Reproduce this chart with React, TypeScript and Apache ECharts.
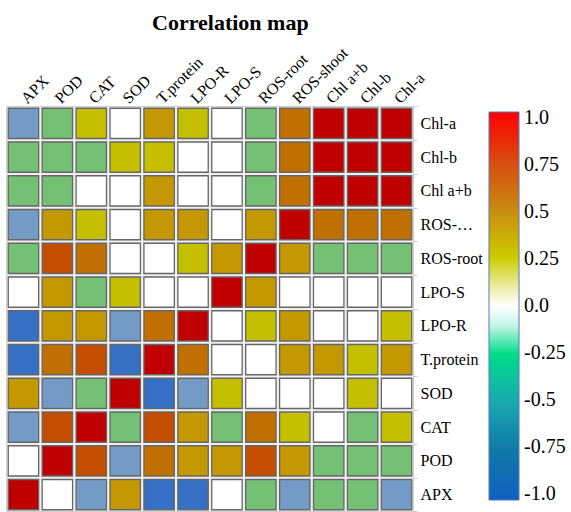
import React, { useEffect, useRef } from "react";
import * as echarts from "echarts";

// Variables (x axis left→right, y axis bottom→top)
const variables = [
  "APX", "POD", "CAT", "SOD", "T.protein", "LPO-R", "LPO-S",
  "ROS-root", "ROS-shoot", "Chl a+b", "Chl-b", "Chl-a",
];
// Y axis displayed labels (one is truncated in the reference)
const yLabelText = [
  "APX", "POD", "CAT", "SOD", "T.protein", "LPO-R", "LPO-S",
  "ROS-root", "ROS-…", "Chl a+b", "Chl-b", "Chl-a",
];

// Correlation matrix rows (same order as variables)
const rowAPX      = [1.0, 0.05, -0.5, 0.45, -0.8, -0.8, 0.05, -0.3, -0.5, -0.3, -0.3, -0.5];
const rowPOD      = [0.05, 1.0, 0.72, -0.5, 0.6, 0.45, 0.45, 0.72, 0.45, -0.3, -0.3, -0.3];
const rowCAT      = [-0.5, 0.72, 1.0, -0.3, 0.72, 0.45, -0.3, 0.6, 0.3, 0.05, -0.3, 0.3];
const rowSOD      = [0.45, -0.5, -0.3, 1.0, -0.8, -0.5, 0.3, 0.05, 0.05, 0.05, 0.3, 0.05];
const rowTprotein = [-0.8, 0.6, 0.72, -0.8, 1.0, 0.6, 0.05, 0.05, 0.45, 0.45, 0.3, 0.45];
const rowLPOR     = [-0.8, 0.45, 0.45, -0.5, 0.6, 1.0, 0.05, 0.3, 0.45, 0.05, 0.05, 0.3];
const rowLPOS     = [0.05, 0.45, -0.3, 0.3, 0.05, 0.05, 1.0, 0.45, 0.05, 0.05, 0.05, 0.05];
const rowROSroot  = [-0.3, 0.72, 0.6, 0.05, 0.05, 0.3, 0.45, 1.0, 0.45, -0.3, -0.3, -0.3];
const rowROSshoot = [-0.5, 0.45, 0.3, 0.05, 0.45, 0.45, 0.05, 0.45, 1.0, 0.6, 0.6, 0.6];
const rowChlab    = [-0.3, -0.3, 0.05, 0.05, 0.45, 0.05, 0.05, -0.3, 0.6, 1.0, 0.9, 0.9];
const rowChlb     = [-0.3, -0.3, -0.3, 0.3, 0.3, 0.05, 0.05, -0.3, 0.6, 0.9, 1.0, 0.9];
const rowChla     = [-0.5, -0.3, 0.3, 0.05, 0.45, 0.3, 0.05, -0.3, 0.6, 0.9, 0.9, 1.0];

const matrix = [
  rowAPX, rowPOD, rowCAT, rowSOD, rowTprotein, rowLPOR, rowLPOS,
  rowROSroot, rowROSshoot, rowChlab, rowChlb, rowChla,
];

const FONT = "Liberation Serif";

export default function App() {
  const ref = useRef<HTMLDivElement>(null);
  useEffect(() => {
    if (!ref.current) return;
    const chart = echarts.init(ref.current, undefined, { renderer: "svg" });
    const data: number[][] = [];
    matrix.forEach((row, yi) => {
      row.forEach((v, xi) => data.push([xi, yi, v]));
    });
    chart.setOption({
      animation: false,
      backgroundColor: "#ffffff",
      title: {
        text: "Correlation map",
        left: 147,
        top: 6,
        textStyle: { fontFamily: FONT, fontSize: 22, fontWeight: "bold", color: "#000" },
      },
      grid: [
        {
          left: 6.5, top: 106.5, width: 407, height: 405,
          show: true, backgroundColor: "#f0f0f0", borderColor: "#cfcfcf", borderWidth: 1,
        },
        { left: 489, top: 117, width: 30, height: 376 },
      ],
      xAxis: [
        {
          gridIndex: 0, type: "category", data: variables, position: "top",
          axisLine: { show: false }, axisTick: { show: false }, splitLine: { show: false },
          axisLabel: {
            interval: 0, rotate: -45, margin: 6, color: "#000",
            fontFamily: FONT, fontSize: 16,
          },
        },
        { gridIndex: 1, type: "category", data: [""], show: false },
      ],
      yAxis: [
        {
          gridIndex: 0, type: "category", data: variables, position: "right",
          axisLine: { show: false },
          axisTick: { show: true, length: 4, lineStyle: { color: "#cccccc" } },
          splitLine: { show: false },
          axisLabel: {
            interval: 0, margin: 7, color: "#000", fontFamily: FONT, fontSize: 16,
            formatter: (_v: string, i: number) => yLabelText[i],
          },
        },
        {
          gridIndex: 1, type: "value", min: -1, max: 1, interval: 0.25, position: "right",
          axisLine: { show: false }, axisTick: { show: false }, splitLine: { show: false },
          axisLabel: {
            margin: 5, color: "#000", fontFamily: FONT, fontSize: 20,
            formatter: (v: number) => (Number.isInteger(v) ? v.toFixed(1) : String(v)),
          },
        },
      ],
      visualMap: {
        type: "piecewise",
        show: false,
        seriesIndex: 0,
        dimension: 2,
        pieces: [
          { gte: 0.8, color: "#C00000" },
          { gte: 0.65, lt: 0.8, color: "#C34E00" },
          { gte: 0.52, lt: 0.65, color: "#C07000" },
          { gte: 0.38, lt: 0.52, color: "#C49800" },
          { gte: 0.18, lt: 0.38, color: "#C4C000" },
          { gte: -0.18, lt: 0.18, color: "#FFFFFF" },
          { gte: -0.4, lt: -0.18, color: "#74C176" },
          { gte: -0.65, lt: -0.4, color: "#739BC5" },
          { lt: -0.65, color: "#3570C4" },
        ],
      },
      graphic: [
        {
          type: "rect",
          shape: { x: 489, y: 112, width: 30, height: 388 },
          style: {
            fill: {
              type: "linear", x: 0, y: 0, x2: 0, y2: 1,
              colorStops: [
                { offset: 0, color: "#FF0000" },
                { offset: 0.125, color: "#D84A10" },
                { offset: 0.25, color: "#C88A10" },
                { offset: 0.375, color: "#CCCC00" },
                { offset: 0.46, color: "#F0F0B8" },
                { offset: 0.5, color: "#FFFFFF" },
                { offset: 0.55, color: "#C4F5E6" },
                { offset: 0.625, color: "#00DD88" },
                { offset: 0.75, color: "#18A8B0" },
                { offset: 0.875, color: "#1078A8" },
                { offset: 1, color: "#1060C0" },
              ],
            },
            stroke: "#5577bb",
            lineWidth: 1,
          },
        },
      ],
      series: [
        {
          type: "custom",
          xAxisIndex: 0,
          yAxisIndex: 0,
          encode: { x: 0, y: 1 },
          data,
          renderItem: (_params: any, api: any) => {
            const c = api.coord([api.value(0), api.value(1)]);
            const s = api.size([1, 1]);
            const w = s[0] - 3.5;
            const h = s[1] - 3.5;
            return {
              type: "rect",
              shape: { x: c[0] - w / 2, y: c[1] - h / 2, width: w, height: h },
              style: { fill: api.visual("color"), stroke: "#666666", lineWidth: 1.3 },
            };
          },
        },
      ],
    });
    return () => chart.dispose();
  }, []);
  return (
    <div
      ref={ref}
      style={{ position: "fixed", left: 0, top: 0, width: 571, height: 512 }}
    />
  );
}
